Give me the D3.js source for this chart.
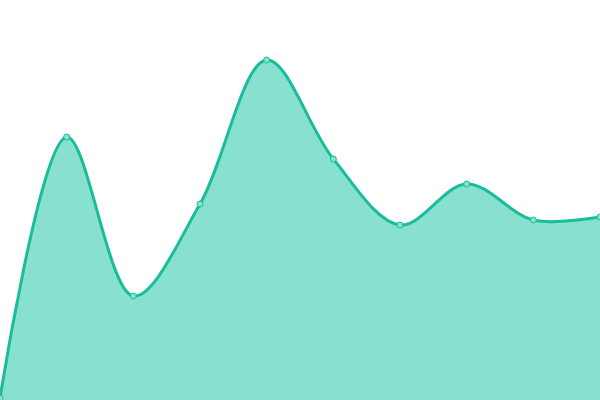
<!DOCTYPE html>
<html>
<head>
<meta charset="utf-8">
<script src="https://cdn.jsdelivr.net/npm/d3@7"></script>
<style>
  body { margin: 0; background: #fff; }
  svg { display: block; }
</style>
</head>
<body>
<div id="chart-area"></div>
<script>
// data
const categories = ["1", "2", "3", "4", "5", "6", "7", "8", "9", "10"];
const values = [0, 65.25, 25.5, 48.5, 84.5, 59.75, 43.25, 53.5, 44.5, 45.25];

const width = 600, height = 400;

const svg = d3.select('#chart-area').append('svg')
  .attr('width', width)
  .attr('height', height);

const x = d3.scalePoint()
  .domain(categories)
  .range([0, width]);

const y = d3.scaleLinear()
  .domain([0, 100])
  .range([398, -2]);

const data = categories.map((c, i) => ({ c, v: values[i] }));

const area = d3.area()
  .x(d => x(d.c))
  .y0(height)
  .y1(d => y(d.v))
  .curve(d3.curveCatmullRom.alpha(0.5));

const line = d3.line()
  .x(d => x(d.c))
  .y(d => y(d.v))
  .curve(d3.curveCatmullRom.alpha(0.5));

svg.append('path')
  .datum(data)
  .attr('d', area)
  .attr('fill', '#88e0cf');

svg.append('path')
  .datum(data)
  .attr('d', line)
  .attr('fill', 'none')
  .attr('stroke', '#1abc9c')
  .attr('stroke-width', 3);

svg.selectAll('circle')
  .data(data)
  .enter()
  .append('circle')
    .attr('cx', d => x(d.c))
    .attr('cy', d => y(d.v))
    .attr('r', 3)
    .attr('fill', '#88e0cf')
    .attr('stroke', '#1abc9c')
    .attr('stroke-width', 1);
</script>
</body>
</html>
